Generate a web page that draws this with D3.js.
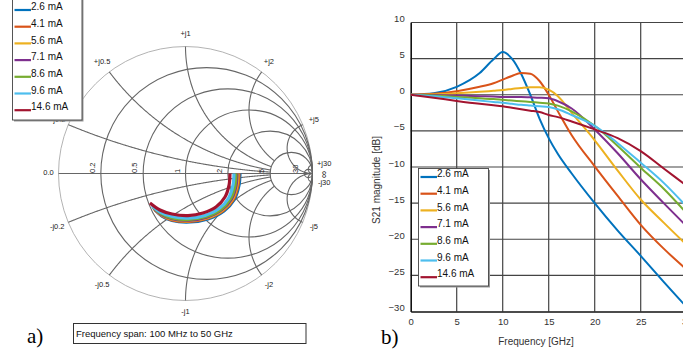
<!DOCTYPE html>
<html>
<head>
<meta charset="utf-8">
<script src="https://cdn.jsdelivr.net/npm/d3@7"></script>
<style>
  body { margin: 0; background: #fff; }
  svg { display: block; font-family: "Liberation Sans", Arial, sans-serif; }
</style>
</head>
<body>
<svg id="chart" width="683" height="351"></svg>
<script>
// bias currents, one trace per current
const currents = ["2.6 mA", "4.1 mA", "5.6 mA", "7.1 mA", "8.6 mA", "9.6 mA", "14.6 mA"];
const colors = ["#0072BD", "#D95319", "#EDB120", "#7E2F8E", "#77AC30", "#4DBEEE", "#A2142F"];

// smith chart traces, reflection coefficient [re, im], 100 MHz -> 50 GHz
const gamma26 = [[0.429, 0], [0.421, -0.094], [0.382, -0.209], [0.303, -0.295], [0.177, -0.358], [0.035, -0.382], [-0.106, -0.370], [-0.185, -0.335], [-0.240, -0.287]];
const gamma41 = [[0.421, 0], [0.413, -0.094], [0.375, -0.207], [0.297, -0.292], [0.173, -0.353], [0.034, -0.377], [-0.106, -0.365], [-0.187, -0.330], [-0.244, -0.282]];
const gamma56 = [[0.413, 0], [0.405, -0.093], [0.368, -0.204], [0.290, -0.289], [0.169, -0.349], [0.032, -0.372], [-0.106, -0.360], [-0.188, -0.325], [-0.248, -0.276]];
const gamma71 = [[0.405, 0], [0.398, -0.093], [0.361, -0.202], [0.284, -0.286], [0.165, -0.344], [0.031, -0.367], [-0.106, -0.355], [-0.190, -0.321], [-0.252, -0.271]];
const gamma86 = [[0.397, 0], [0.390, -0.093], [0.354, -0.199], [0.278, -0.283], [0.161, -0.339], [0.029, -0.362], [-0.106, -0.350], [-0.191, -0.316], [-0.256, -0.265]];
const gamma96 = [[0.382, 0], [0.374, -0.092], [0.339, -0.195], [0.265, -0.276], [0.154, -0.330], [0.026, -0.351], [-0.106, -0.339], [-0.195, -0.306], [-0.264, -0.254]];
const gamma146 = [[0.350, 0], [0.343, -0.091], [0.311, -0.185], [0.240, -0.264], [0.138, -0.311], [0.020, -0.331], [-0.106, -0.319], [-0.201, -0.287], [-0.280, -0.232]];
const smithTraces = [gamma26, gamma41, gamma56, gamma71, gamma86, gamma96, gamma146];

// smith grid values
const rCircles = [0.2, 0.5, 1, 2, 5, 30];
const xArcs = [0.2, 0.5, 1, 2, 5, 30];

// S21 magnitude [dB] vs frequency [GHz]
const freqGHz = [0, 2.5, 5, 7.5, 9, 10, 11, 12, 13, 14, 15, 16, 17.5, 20, 22.5, 25, 27.5, 30];
const s21_26 = [0, 0.2, 1.1, 3.0, 4.9, 5.9, 5.0, 2.9, 0.0, -3.3, -6.0, -8.2, -10.9, -15.0, -18.8, -22.3, -25.9, -29.4];
const s21_41 = [0, 0.15, 0.5, 1.1, 1.6, 2.1, 2.6, 3.0, 2.9, 1.9, 0.0, -2.3, -5.6, -9.9, -14.0, -18.0, -21.3, -24.2];
const s21_56 = [0, 0.05, 0.2, 0.4, 0.55, 0.65, 0.8, 0.95, 1.05, 1.05, 0.7, -0.2, -2.5, -6.3, -10.5, -14.5, -17.7, -20.8];
const s21_71 = [0, -0.05, -0.1, -0.2, -0.25, -0.3, -0.3, -0.3, -0.35, -0.4, -0.5, -0.9, -1.9, -4.8, -8.1, -11.7, -15.0, -18.2];
const s21_86 = [0, -0.1, -0.3, -0.5, -0.6, -0.7, -0.8, -0.9, -1.0, -1.1, -1.2, -1.5, -2.3, -4.3, -7.1, -10.1, -13.0, -16.4];
const s21_96 = [0, -0.2, -0.5, -0.8, -1.0, -1.1, -1.25, -1.4, -1.5, -1.6, -1.7, -2.0, -2.8, -4.3, -6.7, -9.4, -12.2, -15.5];
const s21_146 = [0, -0.4, -0.85, -1.25, -1.45, -1.6, -1.8, -2.0, -2.2, -2.4, -2.8, -3.1, -3.7, -4.8, -6.0, -7.8, -10.2, -12.6];
const s21Series = [s21_26, s21_41, s21_56, s21_71, s21_86, s21_96, s21_146];

const xTicks = [0, 5, 10, 15, 20, 25, 30];
const yTicks = [10, 5, 0, -5, -10, -15, -20, -25, -30];

const svg = d3.select("#chart");

// ---------- a) smith chart ----------
const cx = 185.5, cy = 173.5, R = 127;
const gx = d3.scaleLinear().domain([-1, 1]).range([cx - R, cx + R]);
const gy = d3.scaleLinear().domain([-1, 1]).range([cy + R, cy - R]);

// z = r + jx  ->  gamma
function toGamma(r, x) {
    const den = (r + 1) * (r + 1) + x * x;
    return [(r * r + x * x - 1) / den, 2 * x / den];
}

const smith = svg.append("g");
const gridColor = "#666";

smith.append("circle")
    .attr("cx", gx(0)).attr("cy", gy(0)).attr("r", gx(1) - gx(0))
    .attr("fill", "none").attr("stroke", "#aaa").attr("stroke-width", 0.9);

smith.append("line")
    .attr("x1", gx(-1)).attr("x2", gx(1)).attr("y1", gy(0)).attr("y2", gy(0))
    .attr("stroke", gridColor).attr("stroke-width", 1.1);

smith.selectAll("circle.rc")
    .data(rCircles)
    .join("circle")
    .attr("class", "rc")
    .attr("cx", r => gx(r / (r + 1)))
    .attr("cy", gy(0))
    .attr("r", r => gx(1 / (r + 1)) - gx(0))
    .attr("fill", "none")
    .attr("stroke", gridColor)
    .attr("stroke-width", 1.1);

const gridLine = d3.line().x(d => gx(d[0])).y(d => gy(d[1]));

// reactance arcs, the small ones stop at the r=5 circle
const arcs = [];
xArcs.forEach(x => {
    const rMax = Math.abs(x) <= 2 ? 5 : 2000;
    [x, -x].forEach(xs => {
        const pts = d3.range(0, 301).map(i => toGamma(rMax * Math.pow(i / 300, 2), xs));
        arcs.push(pts);
    });
});
smith.selectAll("path.xa")
    .data(arcs)
    .join("path")
    .attr("class", "xa")
    .attr("d", gridLine)
    .attr("fill", "none")
    .attr("stroke", gridColor)
    .attr("stroke-width", 1.1);

// reactance labels round the edge
const edgeLabels = [];
xArcs.forEach(x => {
    edgeLabels.push({ x: x, t: "+j" + x });
    edgeLabels.push({ x: -x, t: "-j" + x });
});
smith.selectAll("text.el")
    .data(edgeLabels)
    .join("text")
    .attr("class", "el")
    .attr("x", d => cx + (R + 12) * Math.cos(Math.PI - 2 * Math.atan(d.x)))
    .attr("y", d => cy - (R + 12) * Math.sin(Math.PI - 2 * Math.atan(d.x)))
    .attr("text-anchor", "middle")
    .attr("dominant-baseline", "middle")
    .attr("font-size", 7.5)
    .attr("fill", "#222")
    .text(d => d.t);

smith.append("text")
    .attr("x", cx - R - 10).attr("y", cy)
    .attr("text-anchor", "middle").attr("dominant-baseline", "middle")
    .attr("font-size", 7.5).attr("fill", "#222")
    .text("0.0");

smith.append("text")
    .attr("transform", `translate(${cx + R + 12},${cy + 1}) rotate(-90)`)
    .attr("text-anchor", "middle").attr("dominant-baseline", "middle")
    .attr("font-size", 10).attr("fill", "#222")
    .text("\u221E");

// resistance labels, written upwards just left of each circle
smith.selectAll("text.rl")
    .data(rCircles)
    .join("text")
    .attr("class", "rl")
    .attr("transform", r => `translate(${gx((r - 1) / (r + 1)) - 6},${cy - 0.5}) rotate(-90)`)
    .attr("font-size", 7.5)
    .attr("fill", "#222")
    .text(d => d);

const traceLine = d3.line()
    .x(d => gx(d[0]))
    .y(d => gy(d[1]))
    .curve(d3.curveCatmullRom);

smith.selectAll("path.tr")
    .data(smithTraces)
    .join("path")
    .attr("class", "tr")
    .attr("d", traceLine)
    .attr("fill", "none")
    .attr("stroke", (d, i) => colors[i])
    .attr("stroke-width", 3.2);

// legend top left
function legend(g, x0, y0, w, h, firstY) {
    g.append("rect")
        .attr("x", x0 + 1.5).attr("y", y0 + 1.5).attr("width", w).attr("height", h)
        .attr("fill", "#999");
    g.append("rect")
        .attr("x", x0).attr("y", y0).attr("width", w).attr("height", h)
        .attr("fill", "#fff").attr("stroke", "#444").attr("stroke-width", 0.9);
    const item = g.selectAll("g.item")
        .data(currents)
        .join("g")
        .attr("class", "item")
        .attr("transform", (d, i) => `translate(${x0 + 2},${firstY + i * 16.7})`);
    item.append("line")
        .attr("x1", 0).attr("x2", 16.5)
        .attr("y1", 2.5).attr("y2", 2.5)
        .attr("stroke", (d, i) => colors[i])
        .attr("stroke-width", 2.2);
    item.append("text")
        .attr("x", 16.5).attr("y", 0)
        .attr("dominant-baseline", "middle")
        .attr("font-size", 10)
        .attr("fill", "#111")
        .text(d => d);
}
legend(svg.append("g"), 12.5, -2, 69.5, 122, 7.5);

// frequency span box
svg.append("rect")
    .attr("x", 73.5).attr("y", 323.5).attr("width", 232.5).attr("height", 20)
    .attr("fill", "#fff").attr("stroke", "#333").attr("stroke-width", 1);
svg.append("text")
    .attr("x", 76).attr("y", 337)
    .attr("font-size", 9.5).attr("fill", "#111")
    .text("Frequency span: 100 MHz to 50 GHz");

svg.append("text")
    .attr("x", 27).attr("y", 343)
    .attr("font-family", "'Liberation Serif', 'Times New Roman', serif")
    .attr("font-size", 21)
    .text("a)");

// ---------- b) S21 magnitude ----------
const x = d3.scaleLinear().domain([0, 30]).range([410.7, 686.7]);
const y = d3.scaleLinear().domain([-30, 10]).range([311.5, 22.5]);

const plot = svg.append("g");

plot.selectAll("line.vg")
    .data(xTicks.filter(t => t > 0))
    .join("line")
    .attr("class", "vg")
    .attr("x1", d => x(d)).attr("x2", d => x(d))
    .attr("y1", y(10)).attr("y2", y(-30))
    .attr("stroke", "#444").attr("stroke-width", 1.2);

plot.selectAll("line.hg")
    .data(yTicks.filter(t => t > -30))
    .join("line")
    .attr("class", "hg")
    .attr("x1", x(0)).attr("x2", x(30))
    .attr("y1", d => y(d)).attr("y2", d => y(d))
    .attr("stroke", "#444").attr("stroke-width", 1.2);

const xAxis = plot.append("g")
    .attr("transform", `translate(0,${y(-30)})`)
    .call(d3.axisBottom(x).tickValues(xTicks).tickSize(0).tickPadding(7));
const yAxis = plot.append("g")
    .attr("transform", `translate(${x(0)},0)`)
    .call(d3.axisLeft(y).tickValues(yTicks).tickSize(0).tickPadding(6));
[xAxis, yAxis].forEach(a => {
    a.select(".domain").attr("stroke", "#111").attr("stroke-width", 1.6);
    a.selectAll("text")
        .attr("font-family", "'Liberation Sans', Arial, sans-serif")
        .attr("font-size", 9.5)
        .attr("fill", "#333");
});
yAxis.selectAll(".tick text").attr("dy", "-0.1em");

const s21Line = d3.line()
    .x((d, i) => x(freqGHz[i]))
    .y(d => y(d))
    .curve(d3.curveMonotoneX);

plot.selectAll("path.s21")
    .data(s21Series)
    .join("path")
    .attr("class", "s21")
    .attr("d", s21Line)
    .attr("fill", "none")
    .attr("stroke", (d, i) => colors[i])
    .attr("stroke-width", 2);

plot.append("text")
    .attr("x", 536).attr("y", 345)
    .attr("text-anchor", "middle")
    .attr("font-size", 10).attr("fill", "#333")
    .text("Frequency [GHz]");

plot.append("text")
    .attr("transform", `translate(380,180) rotate(-90)`)
    .attr("text-anchor", "middle")
    .attr("font-size", 10).attr("fill", "#333")
    .text("S21 magnitude [dB]");

svg.append("text")
    .attr("x", 381).attr("y", 344)
    .attr("font-family", "'Liberation Serif', 'Times New Roman', serif")
    .attr("font-size", 21)
    .text("b)");

legend(svg.append("g"), 418.5, 168.5, 70, 117.5, 174.5);
</script>
</body>
</html>
